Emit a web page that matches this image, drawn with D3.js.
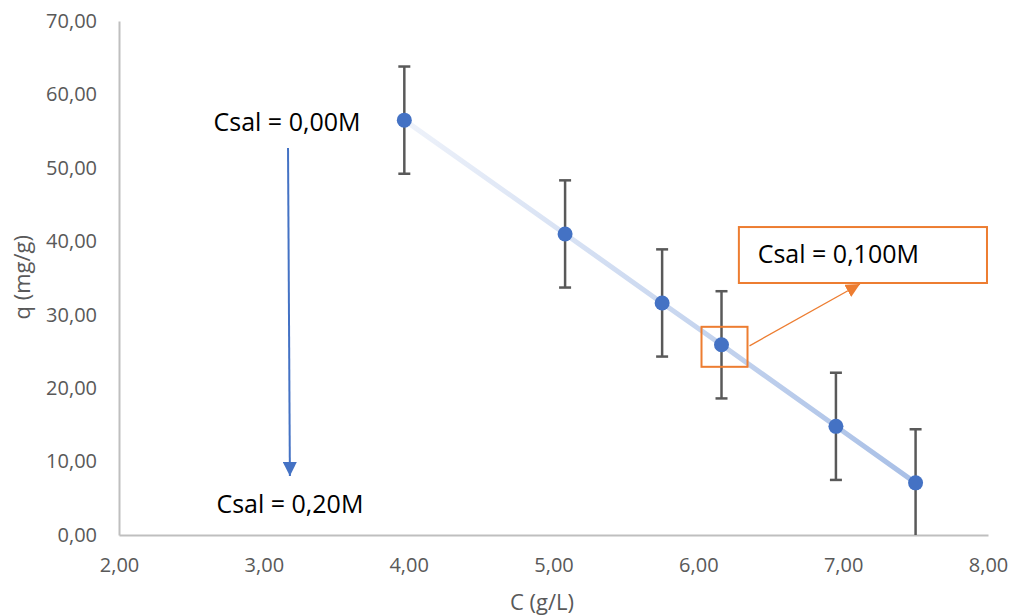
<!DOCTYPE html>
<html>
<head>
<meta charset="utf-8">
<script src="https://cdn.jsdelivr.net/npm/d3@7"></script>
<style>
  body { margin: 0; background: #fff; }
  svg { font-family: 'Open Sans', 'Noto Sans', sans-serif; }
</style>
</head>
<body>
<svg id="chart" width="1012" height="615"></svg>
<script>
// Values
const concentrations = [3.97, 5.08, 5.75, 6.16, 6.95, 7.50];
const capacities = [56.5, 41.0, 31.6, 25.9, 14.8, 7.1];
const errors = [7.3, 7.3, 7.3, 7.3, 7.3, 7.3];
const xTicks = [2, 3, 4, 5, 6, 7, 8];
const yTicks = [0, 10, 20, 30, 40, 50, 60, 70];

const width = 1012;
const height = 615;
const padding = { top: 21, right: 24, bottom: 80, left: 119 };
const colors = { blue: '#4472c4', orange: '#ed7d31', grey: '#595959', axis: '#bfbfbf' };
const fontFamily = "'Open Sans', 'Noto Sans', sans-serif";

const locale = d3.formatLocale({ decimal: ',', thousands: '.', grouping: [3], currency: ['', ''] });
const fmt = locale.format('.2f');

const svg = d3.select('#chart');
const innerW = width - padding.left - padding.right;
const innerH = height - padding.top - padding.bottom;

const x = d3.scaleLinear().domain([2, 8]).range([0, innerW]);
const y = d3.scaleLinear().domain([0, 70]).range([innerH, 0]);

const defs = svg.append('defs');
const grad = defs.append('linearGradient')
  .attr('id', 'trend')
  .attr('gradientUnits', 'userSpaceOnUse')
  .attr('x1', x(concentrations[0])).attr('y1', y(capacities[0]))
  .attr('x2', x(concentrations[5])).attr('y2', y(capacities[5]));
grad.append('stop').attr('offset', 0).attr('stop-color', '#eef2fa');
grad.append('stop').attr('offset', 1).attr('stop-color', '#a8bfe6');

// arrow heads, sized in pixels
function addHead(id, fill) {
  defs.append('marker')
    .attr('id', id).attr('viewBox', '0 0 10 10')
    .attr('refX', 10).attr('refY', 5)
    .attr('markerWidth', 14).attr('markerHeight', 14)
    .attr('markerUnits', 'userSpaceOnUse').attr('orient', 'auto')
    .append('path').attr('d', 'M0,0L10,5L0,10Z').attr('fill', fill);
}
addHead('headBlue', colors.blue);
addHead('headOrange', colors.orange);

const canvas = svg.append('g')
  .attr('transform', `translate(${padding.left}, ${padding.top})`);

// Axes
const xAxis = canvas.append('g')
  .attr('transform', `translate(0, ${innerH})`)
  .call(d3.axisBottom(x).tickValues(xTicks).tickFormat(fmt).tickSize(0).tickPadding(23));
const yAxis = canvas.append('g')
  .call(d3.axisLeft(y).tickValues(yTicks).tickFormat(fmt).tickSize(0).tickPadding(22));

[xAxis, yAxis].forEach(a => {
  a.attr('font-family', fontFamily).attr('font-size', 20);
  a.select('.domain').attr('stroke', colors.axis).attr('stroke-width', 2);
  a.selectAll('text').attr('fill', colors.grey);
});

// Axis titles
svg.append('text')
  .attr('x', padding.left + x(4.92)).attr('y', 610)
  .attr('text-anchor', 'middle').attr('font-size', 22).attr('fill', colors.grey)
  .text('C (g/L)');
svg.append('text')
  .attr('transform', `translate(30, ${padding.top + y(35.1)}) rotate(-90)`)
  .attr('text-anchor', 'middle').attr('font-size', 22).attr('fill', colors.grey)
  .text('q (mg/g)');

// Trend line
const data = concentrations.map((c, i) => ({ c, q: capacities[i], e: errors[i] }));
canvas.append('path')
  .datum(data)
  .attr('fill', 'none')
  .attr('stroke', 'url(#trend)')
  .attr('stroke-width', 5)
  .attr('d', d3.line().x(d => x(d.c)).y(d => y(d.q)));

// Error bars (clipped at the x axis)
const bars = canvas.append('g').selectAll('g').data(data).join('g')
  .attr('stroke', colors.grey).attr('stroke-width', 2.5);
bars.append('line')
  .attr('x1', d => x(d.c)).attr('x2', d => x(d.c))
  .attr('y1', d => y(d.q + d.e)).attr('y2', d => y(Math.max(0, d.q - d.e)));
bars.append('line')
  .attr('x1', d => x(d.c) - 6).attr('x2', d => x(d.c) + 6)
  .attr('y1', d => y(d.q + d.e)).attr('y2', d => y(d.q + d.e));
bars.filter(d => d.q - d.e > 0).append('line')
  .attr('x1', d => x(d.c) - 6).attr('x2', d => x(d.c) + 6)
  .attr('y1', d => y(d.q - d.e)).attr('y2', d => y(d.q - d.e));

// Points
canvas.append('g').selectAll('circle').data(data).join('circle')
  .attr('cx', d => x(d.c)).attr('cy', d => y(d.q))
  .attr('r', 7.5).attr('fill', colors.blue);

// Annotations
canvas.append('text')
  .attr('x', x(3.16)).attr('y', y(55.0))
  .attr('text-anchor', 'middle').attr('font-size', 25).attr('fill', '#000')
  .text('Csal = 0,00M');
canvas.append('text')
  .attr('x', x(3.18)).attr('y', y(3.0))
  .attr('text-anchor', 'middle').attr('font-size', 25).attr('fill', '#000')
  .text('Csal = 0,20M');
canvas.append('line')
  .attr('x1', x(3.167)).attr('y1', y(52.7))
  .attr('x2', x(3.18)).attr('y2', y(8.03))
  .attr('stroke', colors.blue).attr('stroke-width', 2)
  .attr('marker-end', 'url(#headBlue)');

// Highlight on the 4th point
const hi = data[3];
canvas.append('rect')
  .attr('x', x(hi.c) - 20).attr('y', y(hi.q) - 18)
  .attr('width', 46).attr('height', 40)
  .attr('fill', 'none').attr('stroke', colors.orange).attr('stroke-width', 2);
canvas.append('line')
  .attr('x1', x(hi.c) + 28).attr('y1', y(hi.q) + 1)
  .attr('x2', x(7.116)).attr('y2', y(34.18))
  .attr('stroke', colors.orange).attr('stroke-width', 1.3)
  .attr('marker-end', 'url(#headOrange)');
canvas.append('rect')
  .attr('x', x(6.28)).attr('y', y(41.94))
  .attr('width', x(7.993) - x(6.28)).attr('height', y(34.32) - y(41.94))
  .attr('fill', '#fff').attr('stroke', colors.orange).attr('stroke-width', 2);
canvas.append('text')
  .attr('x', x(6.41)).attr('y', y(37.04))
  .attr('font-size', 25).attr('fill', '#000')
  .text('Csal = 0,100M');
</script>
</body>
</html>
